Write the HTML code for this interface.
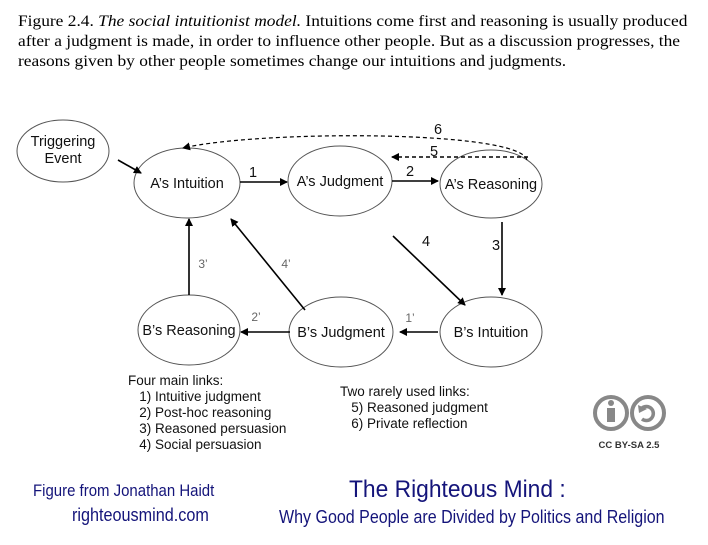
<!DOCTYPE html>
<html><head><style>
body{margin:0;width:708px;height:545px;background:#fff;overflow:hidden;position:relative;font-family:"Liberation Sans",sans-serif}
.cap{position:absolute;left:18px;top:11px;font-family:"Liberation Serif",serif;font-size:16.3px;line-height:20px;color:#000;white-space:nowrap;transform-origin:left top;transform:scaleX(1.068)}
.t{position:absolute;font-size:13.5px;line-height:16px;color:#111;white-space:nowrap}
.b{position:absolute;color:#14147a;font-family:"Liberation Sans",sans-serif;transform-origin:left top;white-space:nowrap}
</style></head><body>
<div class="cap">Figure 2.4. <i>The social intuitionist model.</i> Intuitions come first and reasoning is usually produced<br>after a judgment is made, in order to influence other people. But as a discussion progresses, the<br>reasons given by other people sometimes change our intuitions and judgments.</div>
<svg width="708" height="545" style="position:absolute;left:0;top:0">
<defs><marker id="a" markerWidth="8" markerHeight="8" refX="7" refY="4" orient="auto" markerUnits="userSpaceOnUse"><path d="M0,0 L8,4 L0,8z" fill="#000"/></marker></defs>
<g fill="#fff" stroke="#555" stroke-width="1">
<ellipse cx="63" cy="151" rx="46" ry="31"/>
<ellipse cx="187" cy="183" rx="53" ry="35"/>
<ellipse cx="340" cy="181" rx="52" ry="35"/>
<ellipse cx="491" cy="184" rx="51" ry="34"/>
<ellipse cx="189" cy="330" rx="51" ry="35"/>
<ellipse cx="341" cy="332" rx="52" ry="35"/>
<ellipse cx="491" cy="332" rx="51" ry="35"/>
</g>
<g stroke="#000" stroke-width="1.6" fill="none" marker-end="url(#a)">
<line x1="118" y1="160" x2="141" y2="173"/>
<line x1="240" y1="182" x2="287" y2="182"/>
<line x1="392" y1="181" x2="438" y2="181"/>
<line x1="502" y1="222" x2="502" y2="295"/>
<line x1="393" y1="236" x2="465" y2="305"/>
<line x1="189" y1="295" x2="189" y2="219"/>
<line x1="305" y1="310" x2="231" y2="219"/>
<line x1="438" y1="332" x2="400" y2="332"/>
<line x1="290" y1="332" x2="241" y2="332"/>
<line x1="528" y1="157" x2="392" y2="157" stroke-dasharray="4,3"/>
<path d="M527,160 C520,130 260,130 183,148" stroke-dasharray="4,3" stroke-width="1.2"/>
</g>
<g font-family="Liberation Sans" font-size="14.5" fill="#111" text-anchor="middle">
<text x="63" y="146">Triggering</text><text x="63" y="163">Event</text>
<text x="187" y="188">A’s Intuition</text>
<text x="340" y="186">A’s Judgment</text>
<text x="491" y="189">A’s Reasoning</text>
<text x="189" y="335">B’s Reasoning</text>
<text x="341" y="337">B’s Judgment</text>
<text x="491" y="337">B’s Intuition</text>
<text x="253" y="177">1</text><text x="410" y="176">2</text>
<text x="496" y="250">3</text><text x="426" y="246">4</text>
<text x="434" y="156">5</text><text x="438" y="134">6</text>
</g>
<g font-family="Liberation Sans" font-size="12" fill="#666" text-anchor="middle">
<text x="203" y="268">3’</text><text x="286" y="268">4’</text>
<text x="410" y="322">1’</text><text x="256" y="321">2’</text>
</g>
<g stroke="#888" stroke-width="4" fill="none">
<circle cx="611" cy="413" r="16"/><circle cx="648" cy="413" r="16"/>
</g>
<circle cx="611" cy="403" r="3" fill="#888"/>
<rect x="607" y="408" width="8" height="14" fill="#888"/>
<path d="M642,408 A7,7 0 1 1 642,419" stroke="#888" stroke-width="3.5" fill="none"/>
<path d="M638,405 L647,409 L639,413z" fill="#888"/>
<text x="629" y="448" font-family="Liberation Sans" font-size="9.5" font-weight="bold" fill="#333" text-anchor="middle">CC BY-SA 2.5</text>
</svg>
<div class="t" style="left:128px;top:373px">Four main links:<br>&nbsp;&nbsp;&nbsp;1) Intuitive judgment<br>&nbsp;&nbsp;&nbsp;2) Post-hoc reasoning<br>&nbsp;&nbsp;&nbsp;3) Reasoned persuasion<br>&nbsp;&nbsp;&nbsp;4) Social persuasion</div>
<div class="t" style="left:340px;top:384px">Two rarely used links:<br>&nbsp;&nbsp;&nbsp;5) Reasoned judgment<br>&nbsp;&nbsp;&nbsp;6) Private reflection</div>
<div class="b" style="left:33px;top:481px;font-size:17px;transform:scaleX(0.88)">Figure from Jonathan Haidt</div>
<div class="b" style="left:72px;top:505px;font-size:18px;transform:scaleX(0.9)">righteousmind.com</div>
<div class="b" style="left:349px;top:476px;font-size:24px;transform:scaleX(0.95)">The Righteous Mind :</div>
<div class="b" style="left:279px;top:507px;font-size:18px;transform:scaleX(0.89)">Why Good People are Divided by Politics and Religion</div>
</body></html>
